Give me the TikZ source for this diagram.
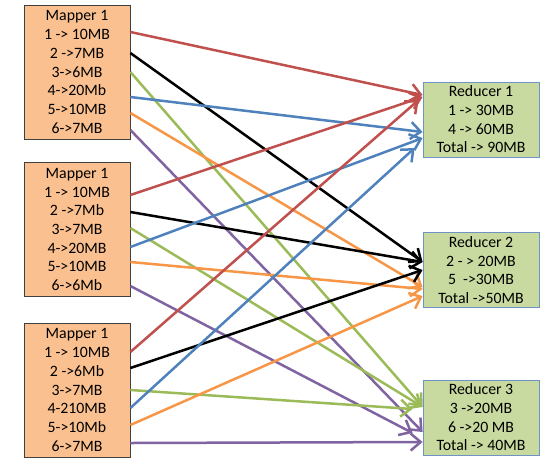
\documentclass[tikz,border=0pt]{standalone}
\usepackage{fontspec}
\setmainfont{Carlito}
\usepackage{tikz}
\usetikzlibrary{positioning,arrows.meta,calc}
\definecolor{cred}{HTML}{C0504D}
\definecolor{cblue}{HTML}{4F81BD}
\definecolor{cgreen}{HTML}{9BBB59}
\definecolor{cpurple}{HTML}{8064A2}
\definecolor{corange}{HTML}{F79646}
\definecolor{mapfill}{HTML}{FAC090}
\definecolor{redfill}{HTML}{C8DA9F}
\definecolor{redline}{HTML}{6F93C4}

\begin{document}
\begin{tikzpicture}[x=1pt,y=-1pt]
	\tikzset{
		mapbox/.style={draw=black!75, fill=mapfill, line width=0.8pt, align=center,
			minimum width=106pt, minimum height=134pt, inner sep=1pt,
			font=\fontsize{15.8}{18.7}\selectfont},
		redbox/.style={draw=redline, fill=redfill, line width=0.8pt, align=center,
			minimum width=116pt, minimum height=75pt, inner sep=1pt,
			font=\fontsize{15.8}{18.7}\selectfont},
		link/.style={line width=2.5pt, -{Straight Barb[length=10pt,width=17pt]}}
	}
	\useasboundingbox (0,0) rectangle (559,467);
	% mappers
	\node[mapbox] (m1) at (77,72) {Mapper 1\\1 -> 10MB\\2 ->7MB\\3->6MB\\4->20Mb\\5->10MB\\6->7MB};
	\node[mapbox] (m2) at (77,229.5) {Mapper 1\\1 -> 10MB\\2 ->7Mb\\3->7MB\\4->20MB\\5->10MB\\6->6Mb};
	\node[mapbox] (m3) at (77,390) {Mapper 1\\1 -> 10MB\\2 ->6Mb\\3->7MB\\4-210MB\\5->10Mb\\6->7MB};
	% reducers
	\node[redbox] (r1) at (481,119.5) {Reducer 1\\1 -> 30MB\\4 -> 60MB\\Total -> 90MB};
	\node[redbox] (r2) at (481,270) {Reducer 2\\2 - > 20MB\\5 \ ->30MB\\Total ->50MB};
	\node[redbox] (r3) at (481,417.5) {Reducer 3\\3 ->20MB\\6 ->20 MB\\Total -> 40MB};
	% connectors
	\foreach \m/\ys/\c/\r/\dx/\ye in {
		m1/32/cred/r1/0/95, m1/53/black/r2/0/262, m1/72/cgreen/r3/0/407,
		m1/97/cblue/r1/0/132, m1/113/corange/r2/0/287, m1/130/cpurple/r3/0/432,
		m2/195/cred/r1/0/97, m2/212/black/r2/0/262, m2/228/cgreen/r3/0/407,
		m2/247/cblue/r1/0/138, m2/262/corange/r2/0/289, m2/286/cpurple/r3/-10/433,
		m3/352/cred/r1/-4/100, m3/368/black/r2/0/270, m3/390/cgreen/r3/-10/409,
		m3/408/cblue/r1/-8/148, m3/425/corange/r2/0/296, m3/443/cpurple/r3/0/442}
		\draw[link,\c] (\m.east |- 0,\ys) -- ($(\r.west |- 0,\ye)+(\dx,0)$);
\end{tikzpicture}
\end{document}
